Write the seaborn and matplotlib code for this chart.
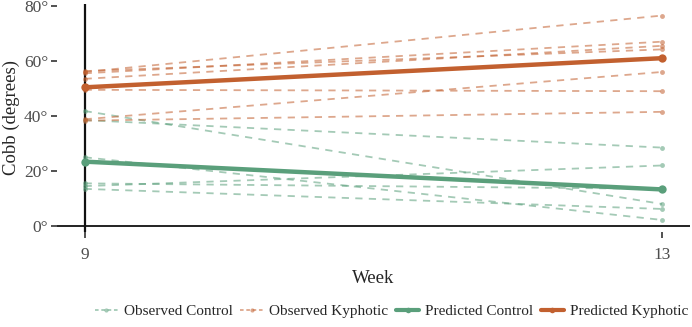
import numpy as np
import pandas as pd
import matplotlib
matplotlib.use("Agg")
import matplotlib.pyplot as plt
from matplotlib.lines import Line2D
import seaborn as sns

weeks = [9, 13]
control_wk9 = [41.8, 38.5, 25.0, 15.5, 14.5, 13.5]
control_wk13 = [8.0, 28.5, 2.2, 13.5, 22.0, 6.2]
kyphotic_wk9 = [56.0, 55.5, 56.3, 53.5, 49.5, 38.8, 38.3]
kyphotic_wk13 = [76.5, 67.0, 64.2, 65.5, 49.0, 56.0, 41.5]
pred_control = [23.4, 13.3]
pred_kyphotic = [50.4, 61.0]
yticks = [0, 20, 40, 60, 80]
ytick_labels = ["0°", "20°", "40°", "60°", "80°"]

GREEN = "#5a9f7b"
ORANGE = "#c2602f"

rows = []
for i, (a, b) in enumerate(zip(control_wk9, control_wk13)):
    rows += [dict(id=f"c{i}", group="Observed Control", week=weeks[0], cobb=a),
             dict(id=f"c{i}", group="Observed Control", week=weeks[1], cobb=b)]
for i, (a, b) in enumerate(zip(kyphotic_wk9, kyphotic_wk13)):
    rows += [dict(id=f"k{i}", group="Observed Kyphotic", week=weeks[0], cobb=a),
             dict(id=f"k{i}", group="Observed Kyphotic", week=weeks[1], cobb=b)]
obs = pd.DataFrame(rows)
pred = pd.DataFrame(
    [dict(group="Predicted Control", week=w, cobb=v) for w, v in zip(weeks, pred_control)]
    + [dict(group="Predicted Kyphotic", week=w, cobb=v) for w, v in zip(weeks, pred_kyphotic)]
)

sns.set_style("white")
plt.rcParams["font.family"] = ["Liberation Serif", "DejaVu Serif"]

fig = plt.figure(figsize=(6.92, 3.27), dpi=100)
ax = fig.add_axes([0.082, 0.2905, 0.915, 0.6973])

sns.lineplot(data=obs, x="week", y="cobb", hue="group", units="id", estimator=None,
             palette={"Observed Control": GREEN, "Observed Kyphotic": ORANGE},
             linestyle=(0, (4, 3.5)), linewidth=1.3, alpha=0.55, marker="o",
             markersize=3.5, markeredgewidth=0, legend=False, ax=ax)
sns.lineplot(data=pred, x="week", y="cobb", hue="group",
             palette={"Predicted Control": GREEN, "Predicted Kyphotic": ORANGE},
             linewidth=3.2, marker="o", markersize=6, markeredgewidth=0,
             legend=False, ax=ax)

ax.axvline(9, color="#111111", lw=1.6, zorder=0)
ax.axhline(0, color="#111111", lw=1.3, zorder=0)

ax.set_xlim(8.807, 13.193)
ax.set_ylim(-2.18, 80.7)
ax.set_xticks(weeks)
ax.set_xticklabels(["9", "13"])
ax.set_yticks(yticks)
ax.set_yticklabels(ytick_labels)
for s in ax.spines.values():
    s.set_visible(False)
ax.tick_params(axis="y", length=4, width=1.2, color="#333333", labelsize=12.5,
               labelcolor="#4d4d4d", pad=2, left=True)
ax.tick_params(axis="x", length=4, width=1.2, color="#333333", labelsize=12.5,
               labelcolor="#4d4d4d", pad=7, bottom=True)
ax.set_xlabel("Week", fontsize=13.5, labelpad=5)
ax.set_ylabel("Cobb (degrees)", fontsize=13.5, labelpad=3)
ax.grid(False)

handles = [
    Line2D([0], [0], color=GREEN, alpha=0.55, lw=1.3, ls=(0, (2, 1.5)), marker="o", markersize=3, markeredgewidth=0),
    Line2D([0], [0], color=ORANGE, alpha=0.55, lw=1.3, ls=(0, (2, 1.5)), marker="o", markersize=3, markeredgewidth=0),
    Line2D([0], [0], color=GREEN, lw=3, marker="o", markersize=4, markeredgewidth=0),
    Line2D([0], [0], color=ORANGE, lw=3, marker="o", markersize=4, markeredgewidth=0),
]
labels = ["Observed Control", "Observed Kyphotic", "Predicted Control", "Predicted Kyphotic"]
fig.legend(handles, labels, loc="center", bbox_to_anchor=(0.566, 0.048), ncol=4,
           frameon=False, fontsize=11, handlelength=1.5, handletextpad=0.4,
           columnspacing=0.5)

fig.savefig("out.png", dpi=100)
